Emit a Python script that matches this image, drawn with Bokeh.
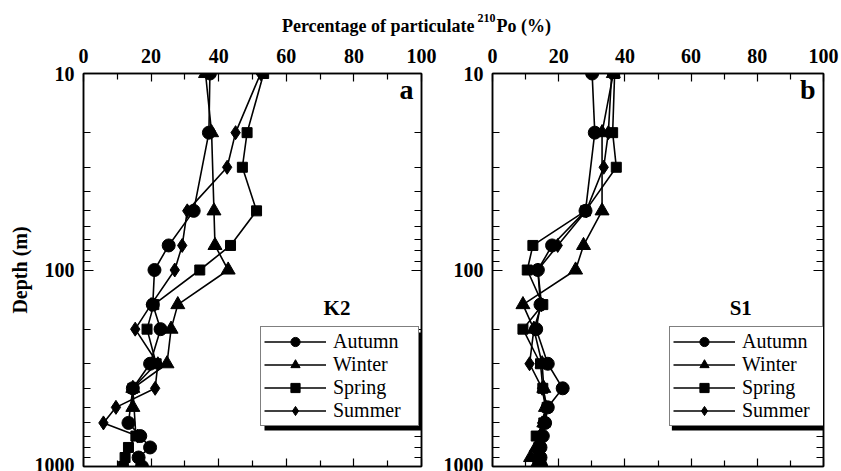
from bokeh.plotting import figure
from bokeh.models import (LinearAxis, LogAxis, FixedTicker, PrintfTickFormatter,
                          CustomJSTickFormatter, Legend, LegendItem, Label, BoxAnnotation, Range1d)
from bokeh.layouts import column, row
from bokeh.embed import file_html
from bokeh.resources import INLINE
from bokeh.core.properties import value

SERIF = "Liberation Serif"

SEASONS = ["Autumn", "Winter", "Spring", "Summer"]
MARKERS = ["circle", "triangle", "square", "diamond"]
MSIZES = [13, 14, 10, 14]

X_TICKS = [0, 20, 40, 60, 80, 100]
X_MINOR = [10, 30, 50, 70, 90]
Y_TICKS = [10, 100, 1000]
Y_MINOR = [20, 30, 40, 50, 60, 70, 80, 90, 200, 300, 400, 500, 600, 700, 800, 900]

# ---- Station K2 (panel a) ----
k2_autumn_depth = [10, 20, 50, 75, 100, 150, 200, 300, 400, 600, 700, 800, 900, 1000]
k2_autumn = [37.4, 37.1, 32.6, 25.2, 21.0, 20.5, 22.8, 19.7, 14.6, 13.3, 16.8, 19.7, 16.3, 17.3]
k2_winter_depth = [10, 20, 50, 75, 100, 150, 200, 300, 400, 500]
k2_winter = [36.1, 37.9, 38.6, 38.9, 42.8, 27.9, 25.9, 24.7, 14.6, 14.6]
k2_spring_depth = [10, 20, 30, 50, 75, 100, 150, 200, 300, 400, 700, 800, 900, 1000]
k2_spring = [53.3, 48.4, 47.0, 51.2, 43.5, 34.4, 20.8, 18.8, 21.5, 14.6, 15.5, 13.3, 12.3, 11.8]
k2_summer_depth = [10, 20, 30, 50, 75, 100, 150, 200, 300, 400, 500, 600, 700]
k2_summer = [52.4, 45.0, 42.5, 30.7, 29.2, 27.0, 20.0, 15.3, 22.0, 21.2, 9.6, 5.9, 16.0]

# ---- Station S1 (panel b) ----
s1_autumn_depth = [10, 20, 50, 75, 100, 150, 200, 300, 400, 500, 600, 700, 800, 900, 1000]
s1_autumn = [30.1, 30.9, 28.1, 18.0, 13.7, 14.5, 13.2, 16.7, 21.2, 16.7, 15.9, 15.2, 14.5, 14.5, 14.7]
s1_winter_depth = [10, 20, 50, 75, 100, 150, 200, 300, 400, 500, 600, 700, 800, 900, 1000]
s1_winter = [36.5, 33.1, 33.1, 27.5, 25.1, 9.2, 12.5, 15.0, 15.5, 16.0, 15.5, 14.5, 13.2, 11.5, 13.0]
s1_spring_depth = [10, 20, 30, 50, 75, 100, 150, 200, 300, 400, 500, 600, 700, 800, 900, 1000]
s1_spring = [36.9, 36.3, 37.4, 28.1, 12.2, 10.5, 15.2, 9.2, 14.5, 15.2, 16.5, 15.5, 13.2, 14.0, 14.0, 14.7]
s1_summer_depth = [10, 20, 30, 50, 75, 100, 150, 200, 300, 400, 500, 600, 700]
s1_summer = [36.0, 35.0, 33.6, 28.3, 19.7, 13.7, 14.8, 12.5, 11.2, 15.0, 16.0, 15.0, 14.5]

K2 = [(k2_autumn_depth, k2_autumn), (k2_winter_depth, k2_winter),
      (k2_spring_depth, k2_spring), (k2_summer_depth, k2_summer)]
S1 = [(s1_autumn_depth, s1_autumn), (s1_winter_depth, s1_winter),
      (s1_spring_depth, s1_spring), (s1_summer_depth, s1_summer)]

FH = 393  # frame height


def make_panel(series, station, letter, width, border_left, border_right, frame_w, depth_label):
    p = figure(width=width, height=431, x_range=Range1d(0, 100), y_range=Range1d(1000, 10),
               y_axis_type="log", x_axis_location="above", toolbar_location=None,
               output_backend="svg", min_border_left=border_left, min_border_right=border_right,
               min_border_top=33, min_border_bottom=5)
    p.grid.visible = False
    p.outline_line_color = "black"
    p.outline_line_width = 1.5
    p.background_fill_color = "white"
    p.border_fill_color = "white"

    xt = FixedTicker(ticks=X_TICKS, minor_ticks=X_MINOR)
    yt = FixedTicker(ticks=Y_TICKS, minor_ticks=Y_MINOR)

    top = p.xaxis[0]
    top.ticker = xt
    top.formatter = PrintfTickFormatter(format="%d")
    left = p.yaxis[0]
    left.ticker = yt
    left.formatter = PrintfTickFormatter(format="%d")

    blank = CustomJSTickFormatter(code="return ''")
    bottom = LinearAxis(ticker=xt, formatter=blank)
    right = LogAxis(ticker=yt, formatter=blank)
    p.add_layout(bottom, "below")
    p.add_layout(right, "right")

    for ax in (top, bottom):
        ax.major_tick_in = 8
        ax.major_tick_out = 0
        ax.minor_tick_in = 6
        ax.minor_tick_out = 0
    for ax in (left, right):
        ax.major_tick_in = 10
        ax.major_tick_out = 0
        ax.minor_tick_in = 7
        ax.minor_tick_out = 0
    for ax in (top, bottom, left, right):
        ax.axis_line_width = 1.5
        ax.major_tick_line_width = 1.2
        ax.minor_tick_line_width = 1.2
        ax.major_label_text_font = SERIF
        ax.major_label_text_font_style = "bold"
        ax.major_label_text_font_size = "20px"
        ax.major_label_text_color = "black"
    for ax in (bottom, right):
        ax.major_label_standoff = 0
    top.major_label_standoff = 11
    left.major_label_standoff = 9
    if depth_label:
        left.axis_label = "Depth (m)"
        left.axis_label_text_font = SERIF
        left.axis_label_text_font_style = "bold"
        left.axis_label_text_font_size = "20px"
        left.axis_label_text_color = "black"
        left.axis_label_standoff = 1

    items = []
    for (depth, vals), name, mk, ms in zip(series, SEASONS, MARKERS, MSIZES):
        lr = p.line(vals, depth, line_color="black", line_width=1.6)
        sr = p.scatter(vals, depth, marker=mk, size=ms, fill_color="black", line_color="black")
        items.append(LegendItem(label=name, renderers=[lr, sr]))

    # legend with drop shadow
    L, B = 177, 40
    PAD, GW, ST, LBW = 3, 62, 7, 82
    LW, LH = PAD + GW + ST + LBW + PAD, 98
    sh = BoxAnnotation(left=(L + 4) / frame_w * 100, right=(L + LW + 4) / frame_w * 100,
                       bottom=10 ** (3 - 2 * (B - 4) / FH), top=10 ** (3 - 2 * (B + LH - 4) / FH),
                       fill_color="black", fill_alpha=1.0, line_color=None)
    p.add_layout(sh)
    leg = Legend(items=items, location=(L, B), orientation="vertical",
                 label_text_font=SERIF, label_text_font_size="20px", label_text_color="black",
                 glyph_width=GW, glyph_height=23, label_height=20, label_width=LBW, spacing=0,
                 padding=PAD, margin=0, label_standoff=ST,
                 border_line_color="black", border_line_width=1.5,
                 background_fill_color="white", background_fill_alpha=1.0)
    p.add_layout(leg)

    p.add_layout(Label(x=97.6, y=12.06, text=letter, text_align="right", text_baseline="middle",
                       text_font=SERIF, text_font_style="bold", text_font_size="28px",
                       text_color="black"))
    p.add_layout(Label(x=75.0, y=157, text=station, text_align="center", text_baseline="middle",
                       text_font=SERIF, text_font_style="bold", text_font_size="21px",
                       text_color="black"))
    return p


fa = make_panel(K2, "K2", "a", 440, 83, 19, 338, True)
fb = make_panel(S1, "S1", "b", 401, 49, 18, 334, False)

tf = figure(width=841, height=40, x_range=Range1d(0, 841), y_range=Range1d(40, 0),
            x_axis_type=None, y_axis_type=None, toolbar_location=None, output_backend="svg",
            min_border=0)
tf.grid.visible = False
tf.outline_line_color = None
tf.text(x=[474], y=[25], text=["Percentage of particulate"], text_align="right",
        text_baseline="alphabetic", text_font=value(SERIF), text_font_style="bold",
        text_font_size="18px", text_color="black")
tf.text(x=[477], y=[17], text=["210"], text_align="left", text_baseline="alphabetic",
        text_font=value(SERIF), text_font_style="bold", text_font_size="12px", text_color="black")
tf.text(x=[496], y=[25], text=["Po (%)"], text_align="left", text_baseline="alphabetic",
        text_font=value(SERIF), text_font_style="bold", text_font_size="18px", text_color="black")

layout = column(tf, row(fa, fb, spacing=0), spacing=0)
open("out.html", "w").write(file_html(layout, INLINE))
